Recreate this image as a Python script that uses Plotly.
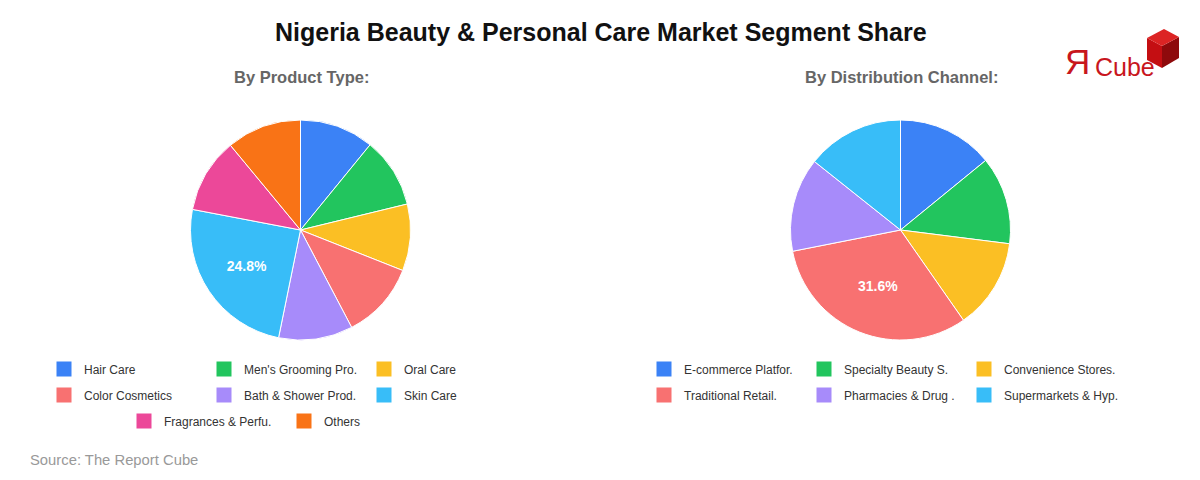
import plotly.graph_objects as go

W, H = 1200, 480

# ---------------- data ----------------
product_labels = ["Hair Care", "Men's Grooming Pro.", "Oral Care", "Color Cosmetics",
                  "Bath & Shower Prod.", "Skin Care", "Fragrances & Perfu.", "Others"]
product_values = [10.9, 10.3, 9.8, 11.3, 10.9, 24.8, 11.0, 11.0]
product_colors = ["#3B82F6", "#22C55E", "#FBBF24", "#F87171",
                  "#A78BFA", "#38BDF8", "#EC4899", "#F97316"]

channel_labels = ["E-commerce Platfor.", "Specialty Beauty S.", "Convenience Stores.",
                  "Traditional Retail.", "Pharmacies & Drug .", "Supermarkets & Hyp."]
channel_values = [14.1, 12.9, 13.3, 31.6, 13.8, 14.3]
channel_colors = ["#3B82F6", "#22C55E", "#FBBF24", "#F87171", "#A78BFA", "#38BDF8"]

title_text = "Nigeria Beauty & Personal Care Market Segment Share"
subtitle_left = "By Product Type:"
subtitle_right = "By Distribution Channel:"
source_text = "Source: The Report Cube"

FONT = "Liberation Sans, Arial, Helvetica, sans-serif"


def px(x):
    return x / W


def py(y):
    return 1 - y / H


def max_only(values):
    m = max(values)
    return [f"{v:.1f}%" if v == m else "" for v in values]


fig = go.Figure()

# pies
pie_cfg = [
    (product_labels, product_values, product_colors, 300.5),
    (channel_labels, channel_values, channel_colors, 900.5),
]
R = 110
CY = 230
for labels, values, colors, cx in pie_cfg:
    fig.add_trace(go.Pie(
        labels=labels, values=values, sort=False, direction="clockwise", rotation=0,
        marker=dict(colors=colors, line=dict(color="white", width=1)),
        text=max_only(values), textinfo="text", textposition="inside",
        insidetextfont=dict(color="white", size=14, family=FONT, weight="bold"),
        insidetextorientation="horizontal",
        domain=dict(x=[px(cx - R), px(cx + R)], y=[py(CY + R), py(CY - R)]),
        showlegend=False, hoverinfo="label+value",
    ))

# legend rows (legend entries via marker-only traces)
STRIDE = 160
rows = [
    (product_labels[0:3], product_colors[0:3], 300, 369),
    (product_labels[3:6], product_colors[3:6], 300, 395),
    (product_labels[6:8], product_colors[6:8], 300, 421),
    (channel_labels[0:3], channel_colors[0:3], 900, 369),
    (channel_labels[3:6], channel_colors[3:6], 900, 395),
]
layout_legends = {}
for i, (labs, cols, center, yrow) in enumerate(rows):
    name = "legend" if i == 0 else f"legend{i + 1}"
    for lab, col in zip(labs, cols):
        fig.add_trace(go.Scatter(
            x=[None], y=[None], mode="markers", name=lab,
            marker=dict(symbol="square", size=15, color=col),
            legend=name, showlegend=True, hoverinfo="skip",
        ))
    left = center - len(labs) * STRIDE / 2 - 16
    layout_legends[name] = dict(
        orientation="h", x=px(left), xanchor="left", y=py(yrow), yanchor="middle",
        font=dict(size=12, color="#333333", family=FONT),
        bgcolor="rgba(0,0,0,0)", entrywidth=STRIDE - 45, entrywidthmode="pixels",
        itemclick=False, itemdoubleclick=False, traceorder="normal",
    )

annotations = [
    dict(text=title_text, x=px(601), y=py(32), xref="paper", yref="paper",
         showarrow=False, xanchor="center", yanchor="middle",
         font=dict(size=25, color="#111111", family=FONT, weight="bold")),
    dict(text=subtitle_left, x=px(301), y=py(77), xref="paper", yref="paper",
         showarrow=False, xanchor="center", yanchor="middle",
         font=dict(size=16.5, color="#666666", family=FONT, weight="bold")),
    dict(text=subtitle_right, x=px(901), y=py(77), xref="paper", yref="paper",
         showarrow=False, xanchor="center", yanchor="middle",
         font=dict(size=16.5, color="#666666", family=FONT, weight="bold")),
    dict(text=source_text, x=px(28), y=py(460), xref="paper", yref="paper",
         showarrow=False, xanchor="left", yanchor="middle",
         font=dict(size=14.8, color="#999999", family=FONT)),
    # logo text
    dict(text="Я", x=px(1077), y=py(61), xref="paper", yref="paper",
         showarrow=False, xanchor="center", yanchor="middle",
         font=dict(size=35, color="#C8161D", family=FONT)),
    dict(text="Cube", x=px(1125), y=py(67), xref="paper", yref="paper",
         showarrow=False, xanchor="center", yanchor="middle",
         font=dict(size=25, color="#C8161D", family=FONT)),
]


def path(pts):
    return "M " + " L ".join(f"{px(x)},{py(y)}" for x, y in pts) + " Z"


cube_top = [(1164, 29), (1147, 38), (1162, 46), (1179, 37)]
cube_left = [(1147, 38), (1162, 46), (1162, 68), (1147, 60)]
cube_right = [(1162, 46), (1179, 37), (1179, 58), (1162, 68)]
shapes = [
    dict(type="path", path=path(cube_left), xref="paper", yref="paper",
         fillcolor="#C40E12", line=dict(width=0), layer="above"),
    dict(type="path", path=path(cube_right), xref="paper", yref="paper",
         fillcolor="#8E0A0C", line=dict(width=0), layer="above"),
    dict(type="path", path=path(cube_top), xref="paper", yref="paper",
         fillcolor="#DC2424", line=dict(width=0), layer="above"),
]

fig.update_layout(
    width=W, height=H,
    margin=dict(l=0, r=0, t=0, b=0, autoexpand=False),
    paper_bgcolor="white", plot_bgcolor="white",
    xaxis=dict(visible=False, range=[0, 1]), yaxis=dict(visible=False, range=[0, 1]),
    annotations=annotations, shapes=shapes,
    font=dict(family=FONT),
    **layout_legends,
)

fig.write_html("out.html")
